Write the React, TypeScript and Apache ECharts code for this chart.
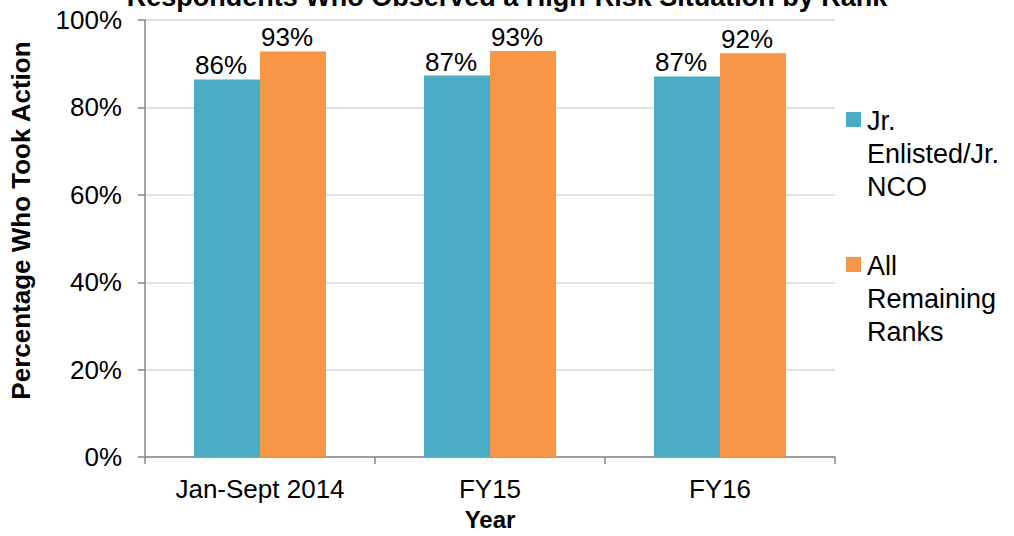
import React, { useEffect, useRef } from "react";
import * as echarts from "echarts";

const title = "Respondents Who Observed a High-Risk Situation by Rank";
const categories = ["Jan-Sept 2014", "FY15", "FY16"];
const seriesNames = ["Jr. Enlisted/Jr. NCO", "All Remaining Ranks"];
const legendLabels = ["Jr.\nEnlisted/Jr.\nNCO", "All\nRemaining\nRanks"];
const jrValues = [86.4, 87.3, 87.1];
const remainingValues = [92.8, 92.9, 92.4];
const yTicks = [0, 20, 40, 60, 80, 100];
const colors = ["#4BACC6", "#F79646"];

const FONT = "'Liberation Sans', Arial, sans-serif";

export default function App() {
  const ref = useRef<HTMLDivElement>(null);
  useEffect(() => {
    if (!ref.current) return;
    const chart = echarts.init(ref.current, null, { renderer: "svg" });
    const legendGraphics: any[] = [];
    legendLabels.forEach((lab, i) => {
      const y0 = 112 + i * 145;
      legendGraphics.push({
        type: "rect",
        shape: { x: 846, y: y0, width: 15, height: 15 },
        style: { fill: colors[i] },
      });
      legendGraphics.push({
        type: "text",
        x: 867,
        y: y0 - 8,
        style: {
          text: lab,
          font: `27px ${FONT}`,
          lineHeight: 33,
          fill: "#000",
          textAlign: "left",
          textVerticalAlign: "top",
        },
      });
    });
    chart.setOption({
      animation: false,
      backgroundColor: "#fff",
      textStyle: { fontFamily: FONT },
      title: {
        text: title,
        left: "center",
        top: -22,
        textStyle: { fontFamily: FONT, fontSize: 27, fontWeight: "bold", color: "#000" },
      },
      grid: { left: 145, right: 179, top: 20, bottom: 71, containLabel: false },
      xAxis: {
        type: "category",
        data: categories,
        name: "Year",
        nameLocation: "middle",
        nameGap: 46,
        nameTextStyle: { fontFamily: FONT, fontSize: 24, fontWeight: "bold", color: "#000" },
        axisLine: { lineStyle: { color: "#868686", width: 1.5 } },
        axisTick: { show: true, length: 7, lineStyle: { color: "#868686", width: 1.5 } },
        axisLabel: { fontFamily: FONT, fontSize: 26, color: "#000", margin: 19 },
      },
      yAxis: {
        type: "value",
        min: yTicks[0],
        max: yTicks[yTicks.length - 1],
        interval: 20,
        name: "Percentage Who Took Action",
        nameLocation: "middle",
        nameGap: 111,
        nameRotate: 90,
        nameTextStyle: {
          fontFamily: FONT,
          fontSize: 26,
          fontWeight: "bold",
          color: "#000",
          padding: [0, 0, 0, 36],
        },
        axisLine: { show: true, lineStyle: { color: "#868686", width: 1.5 } },
        axisTick: { show: true, length: 7, lineStyle: { color: "#868686", width: 1.5 } },
        axisLabel: { fontFamily: FONT, fontSize: 26, color: "#000", margin: 23, formatter: "{value}%" },
        splitLine: { lineStyle: { color: "#D9D9D9", width: 1.5 } },
      },
      series: [jrValues, remainingValues].map((vals, i) => ({
        type: "bar",
        name: seriesNames[i],
        data: vals,
        barGap: "0%",
        barCategoryGap: "42.6%",
        itemStyle: { color: colors[i] },
        label: {
          show: true,
          position: "top",
          distance: 1,
          offset: [-6, 0],
          fontFamily: FONT,
          fontSize: 26,
          color: "#000",
          formatter: (p: any) => `${Math.round(p.value)}%`,
        },
      })),
      graphic: legendGraphics,
    });
    return () => chart.dispose();
  }, []);
  return (
    <div
      ref={ref}
      style={{ position: "fixed", left: 0, top: 0, width: 1014, height: 536 }}
    />
  );
}
